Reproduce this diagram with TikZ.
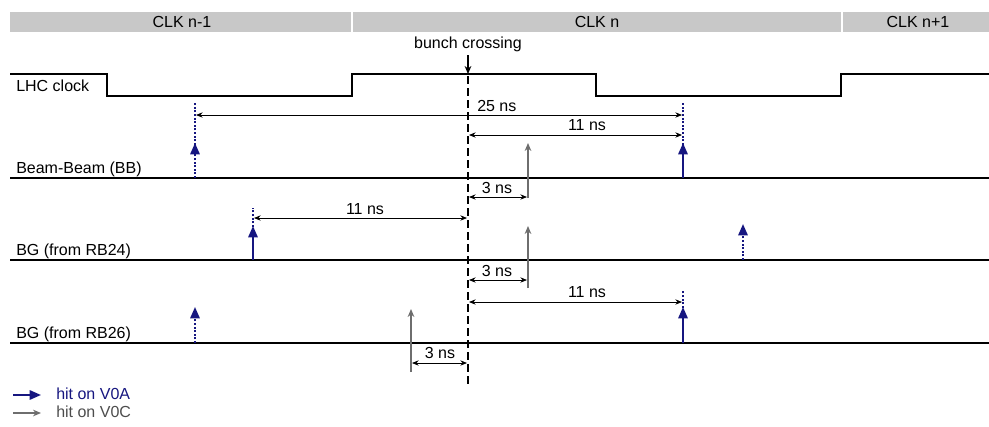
\documentclass[tikz,border=0pt]{standalone}
\usepackage{fontspec}
\setmainfont{Liberation Sans}
\usepackage{xcolor}
\usetikzlibrary{arrows.meta}
\definecolor{hitblue}{RGB}{22,22,128}
\definecolor{hitgray}{RGB}{110,110,110}
\definecolor{barfill}{RGB}{200,200,200}

\begin{document}
\begin{tikzpicture}[x=0.75pt,y=0.75pt,yscale=-1,xscale=1,
    font=\fontsize{12}{14}\selectfont,
    sig/.style={line width=1.5pt},
    dim/.style={line width=0.6pt,{Stealth[length=5pt,width=4pt]}-{Stealth[length=5pt,width=4pt]}},
    hitA/.style={hitblue,line width=1.5pt,-{Triangle[length=8.5pt,width=7pt]}},
    hitAoff/.style={hitA,dash pattern=on 1.5pt off 1.2pt},
    timemark/.style={hitblue,line width=1.5pt,dash pattern=on 1.5pt off 1.2pt},
    hitC/.style={hitgray,line width=0.9pt,-{Stealth[length=6pt,width=5pt]}},
    lbl/.style={anchor=base,inner sep=0.75pt}]
	\useasboundingbox (0,0) rectangle (989,426);
	% clock periods
	\fill [barfill] (10,12) rectangle (989,32);
	\draw [white,line width=1.2pt] (352,12) -- (352,32) (842,12) -- (842,32);
	\draw (182,22) node [anchor=center] (clkprev) {CLK n-1};
	\draw (597,22) node [anchor=center] (clkcur) {CLK n};
	\draw (918,22) node [anchor=center] (clknext) {CLK n+1};
	% bunch crossing
	\draw (468,48) node [lbl] (bc) {bunch crossing};
	\draw [line width=0.8pt,-{Stealth[length=6pt,width=5pt]}] (468,55) -- (468,74);
	\draw [line width=1.5pt,dash pattern=on 6pt off 3pt] (468,76) -- (468,385);
	% signal lines
	\draw [sig] (10,74) -- (107,74) -- (107,96) -- (352,96) -- (352,74) -- (596,74) -- (596,96) -- (841,96) -- (841,74) -- (989,74);
	\draw [sig] (10,178) -- (989,178);
	\draw [sig] (10,260) -- (989,260);
	\draw [sig] (10,343) -- (989,343);
	\draw (15,91) node [anchor=base west,inner sep=0.75pt] (lhc) {LHC clock};
	\draw (15,173) node [anchor=base west,inner sep=0.75pt] (bb) {Beam-Beam (BB)};
	\draw (15,255) node [anchor=base west,inner sep=0.75pt] (bga) {BG (from RB24)};
	\draw (15,338) node [anchor=base west,inner sep=0.75pt] (bgc) {BG (from RB26)};
	% Beam-Beam
	\draw [hitAoff] (195,178) -- (195,143);
	\draw [timemark] (195,152) -- (195,103);
	\draw [hitA] (683,178) -- (683,143);
	\draw [timemark] (683,152) -- (683,103);
	\draw [hitC] (528,198) -- (528,143);
	\draw [dim] (196,115) -- (682,115);
	\draw [dim] (469,135) -- (682,135);
	\draw [dim] (469,197) -- (527,197);
	\draw (476,111) node [anchor=base west,inner sep=0.75pt] (t25) {25 ns};
	\draw (587,130) node [lbl] (t11bb) {11 ns};
	\draw (497,193) node [lbl] (t3bb) {3 ns};
	% BG from RB24
	\draw [hitA] (253,260) -- (253,226);
	\draw [timemark] (253,234) -- (253,208);
	\draw [hitAoff] (743,260) -- (743,224);
	\draw [hitC] (528,288) -- (528,226);
	\draw [dim] (254,218) -- (467,218);
	\draw [dim] (469,280) -- (527,280);
	\draw (365,214) node [lbl] (t11a) {11 ns};
	\draw (497,276) node [lbl] (t3a) {3 ns};
	% BG from RB26
	\draw [hitAoff] (195,343) -- (195,307);
	\draw [hitA] (683,343) -- (683,307);
	\draw [timemark] (683,315) -- (683,290);
	\draw [hitC] (411,372) -- (411,309);
	\draw [dim] (469,302) -- (682,302);
	\draw [dim] (412,363) -- (467,363);
	\draw (587,297) node [lbl] (t11c) {11 ns};
	\draw (440,358) node [lbl] (t3c) {3 ns};
	% legend
	\draw [hitA] (13,395) -- (41,395);
	\draw [hitC] (13,413) -- (41,413);
	\draw (55,399) node [anchor=base west,inner sep=0.75pt,text=hitblue] (legA) {hit on V0A};
	\draw (55,417) node [anchor=base west,inner sep=0.75pt,text=hitgray!70!black] (legC) {hit on V0C};
\end{tikzpicture}
\end{document}
